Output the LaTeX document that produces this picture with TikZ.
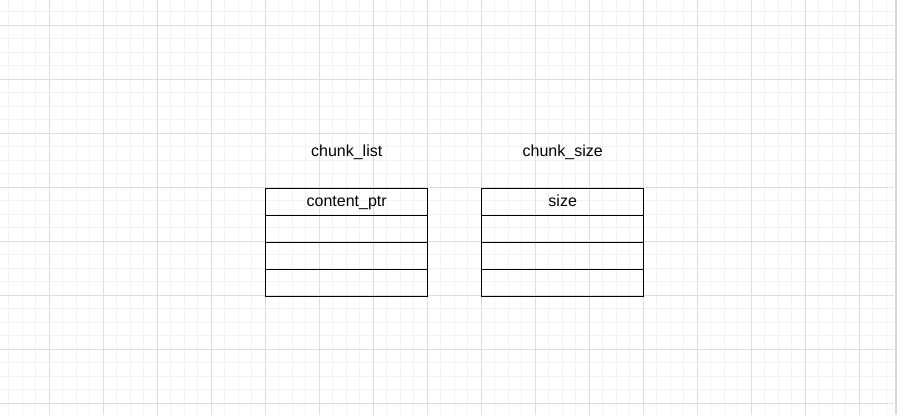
\documentclass[tikz,border=0pt]{standalone}
\usepackage{fontspec}
\setmainfont{Liberation Sans}
\usetikzlibrary{positioning}

\tikzset{
  minorline/.style={draw=black!5, line width=0.75pt},
  majorline/.style={draw=black!13, line width=0.75pt},
  cellbox/.style={draw=black, line width=1pt, minimum width=162*0.75pt,
    minimum height=27*0.75pt, inner sep=0pt, outer sep=0pt, anchor=north},
  titletext/.style={inner sep=0pt, font=\fontsize{12}{14}\selectfont},
  celltext/.style={font=\fontsize{12}{14}\selectfont, text height=9pt, text depth=2.2pt}
}

\begin{document}
\begin{tikzpicture}[x=0.75pt, y=-0.75pt]
  \useasboundingbox (0,0) rectangle (903,415);
  %.
  \foreach \gx in {-4.7,8.8,...,894} {\draw[minorline] (\gx,0) -- (\gx,415);}
  \foreach \gy in {-1.7,11.8,...,415} {\draw[minorline] (0,\gy) -- (894.3,\gy);}
  \foreach \gx in {49.3,103.3,...,894} {\draw[majorline] (\gx,0) -- (\gx,415);}
  \foreach \gy in {25.3,79.3,...,415} {\draw[majorline] (0,\gy) -- (894.3,\gy);}
  \draw[draw=black!15, line width=1.5pt] (895.6,0) -- (895.6,415);
  %.
  \node[titletext] (listtitle) at (346.7,152) {chunk\_list};
  \node[titletext] (sizetitle) at (562.7,152) {chunk\_size};
  %.
  \node[cellbox, celltext] (list1) at (346.7,188.3) {content\_ptr};
  \node[cellbox, below=0pt of list1] (list2) {};
  \node[cellbox, below=0pt of list2] (list3) {};
  \node[cellbox, below=0pt of list3] (list4) {};
  %.
  \node[cellbox, celltext] (size1) at (562.7,188.3) {size};
  \node[cellbox, below=0pt of size1] (size2) {};
  \node[cellbox, below=0pt of size2] (size3) {};
  \node[cellbox, below=0pt of size3] (size4) {};
  %.
\end{tikzpicture}
\end{document}
